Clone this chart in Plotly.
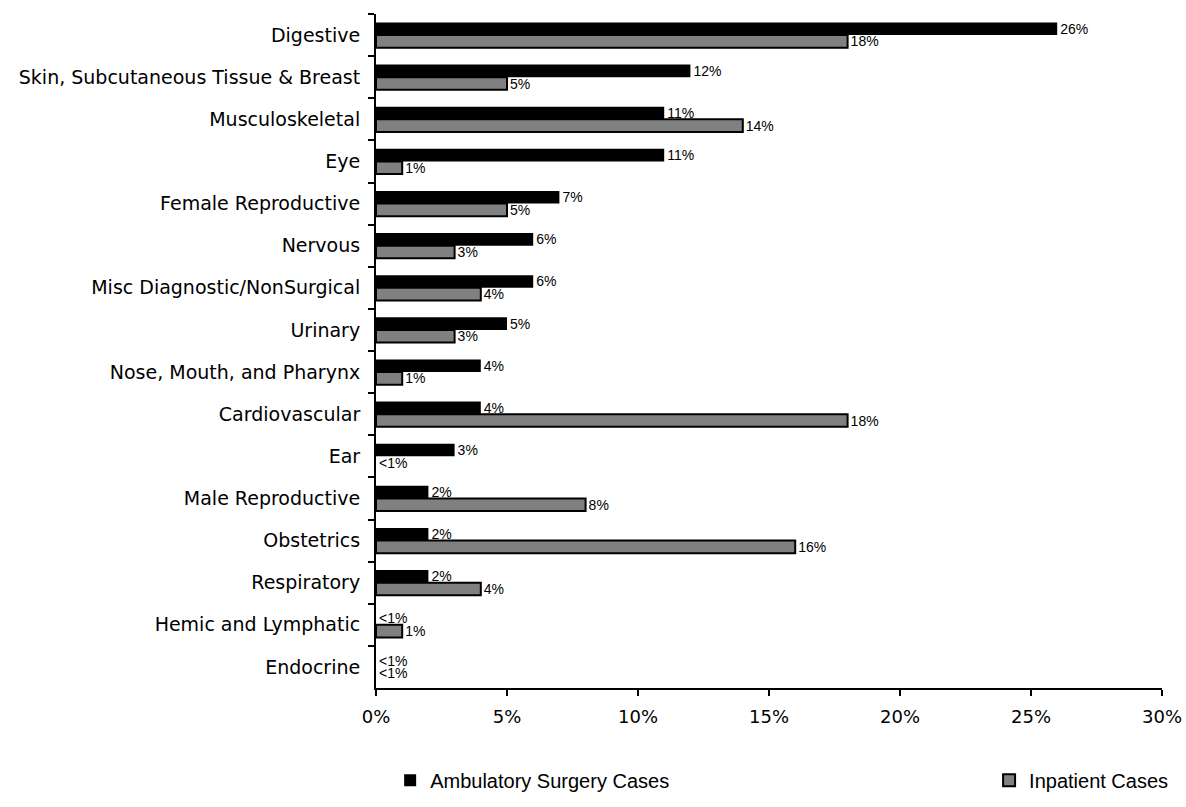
import plotly.graph_objects as go

categories = [
    "Digestive", "Skin, Subcutaneous Tissue & Breast", "Musculoskeletal", "Eye",
    "Female Reproductive", "Nervous", "Misc Diagnostic/NonSurgical", "Urinary",
    "Nose, Mouth, and Pharynx", "Cardiovascular", "Ear", "Male Reproductive",
    "Obstetrics", "Respiratory", "Hemic and Lymphatic", "Endocrine",
]
# Share of cases (%); entries below 1% are shown as "<1%"
ambulatory = [26, 12, 11, 11, 7, 6, 6, 5, 4, 4, 3, 2, 2, 2, 0, 0]
inpatient = [18, 5, 14, 1, 5, 3, 4, 3, 1, 18, 0, 8, 16, 4, 1, 0]
x_ticks = [0, 5, 10, 15, 20, 25, 30]
x_tick_labels = ["0%", "5%", "10%", "15%", "20%", "25%", "30%"]


def pct_label(v):
    return "<1%" if v < 1 else f"{v:g}%"


label_font = "Liberation Sans, Arial, sans-serif"
axis_font = "DejaVu Sans, Verdana, sans-serif"
legend_font = "Liberation Sans, Arial, sans-serif"

fig = go.Figure()
fig.add_trace(go.Bar(
    y=categories, x=ambulatory, orientation="h",
    name="Ambulatory Surgery Cases", legend="legend",
    marker=dict(color="#000000", line=dict(color="#000000", width=0)),
    text=[pct_label(v) for v in ambulatory], textposition="outside",
    textfont=dict(size=14, color="#000000", family=label_font),
    cliponaxis=False, constraintext="none",
))
fig.add_trace(go.Bar(
    y=categories, x=inpatient, orientation="h",
    name="Inpatient Cases", legend="legend2",
    marker=dict(
        color="#808080",
        # no outline on empty bars so they leave no stub at the axis
        line=dict(color="#000000", width=[2 if v > 0 else 0 for v in inpatient]),
    ),
    text=[pct_label(v) for v in inpatient], textposition="outside",
    textfont=dict(size=14, color="#000000", family=label_font),
    cliponaxis=False, constraintext="none",
))

legend_common = dict(
    orientation="h", yanchor="top", xanchor="left", y=-0.108,
    font=dict(size=20, family=legend_font, color="#000000"),
    itemwidth=30, bgcolor="rgba(0,0,0,0)",
)

fig.update_layout(
    width=1186, height=807,
    margin=dict(l=376, r=24, t=14, b=119, autoexpand=False),
    paper_bgcolor="white", plot_bgcolor="white",
    barmode="group", bargap=0.4, bargroupgap=0.0,
    font=dict(family=axis_font, size=19, color="#000000"),
    showlegend=True,
    legend=dict(x=0.018, **legend_common),
    legend2=dict(x=0.78, **legend_common),
)
fig.update_xaxes(
    range=[0, 30], tickvals=x_ticks, ticktext=x_tick_labels,
    showgrid=False, zeroline=False,
    showline=True, linecolor="#000000", linewidth=2,
    ticks="outside", ticklen=6, tickwidth=2, tickcolor="#000000",
    tickfont=dict(size=18, family=axis_font), ticklabelstandoff=5,
    fixedrange=True,
)
fig.update_yaxes(
    autorange="reversed", type="category",
    showgrid=False, zeroline=False,
    showline=True, linecolor="#000000", linewidth=2,
    ticks="outside", tickson="boundaries", ticklen=6, tickwidth=2,
    tickcolor="#000000", tickfont=dict(size=19, family=axis_font),
    ticklabelstandoff=10,
)

fig.write_html("out.html")
